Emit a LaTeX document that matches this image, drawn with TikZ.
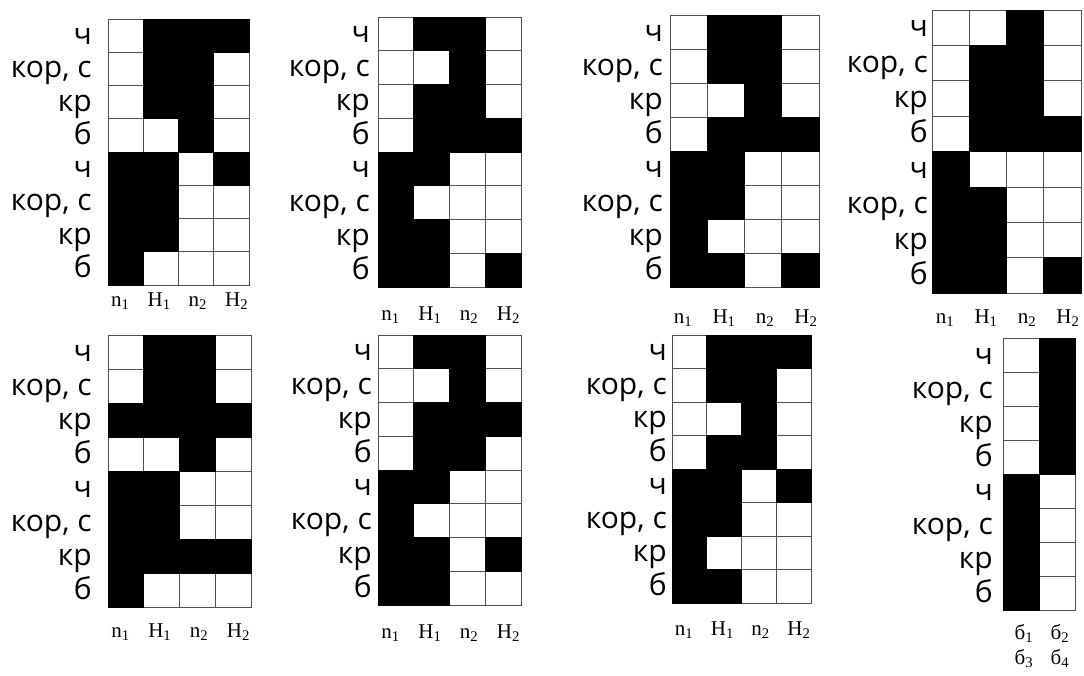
\documentclass[tikz,border=0pt]{standalone}
\usepackage{fontspec}
\setmainfont{Liberation Serif}
\newfontfamily\lblfont{Open Sans}
\definecolor{gridgray}{HTML}{505050}
\tikzset{
  rowlbl/.style={anchor=base east, inner sep=0pt, font=\lblfont\fontsize{30}{32}\selectfont},
  collbl/.style={anchor=base, inner sep=0pt, font=\fontsize{21}{23}\selectfont},
  cellw/.style={draw=gridgray, line width=1pt, fill=white},
  cellb/.style={draw=black, line width=1pt, fill=black},
}
% #1 name, #2 x0, #3 y0, #4 cell width, #5 cell height, #6 label right x, #7 pattern
\newcommand\drawmygrid[7]{%
  \foreach \rowv [count=\r] in {#7} {
    \foreach \v [count=\c] in \rowv {
      \ifnum\v=0 \path[cellw] ({#2+(\c-1)*#4},{#3+(\r-1)*#5}) rectangle ++(#4,#5);\fi
    }
  }
  \foreach \rowv [count=\r] in {#7} {
    \foreach \v [count=\c] in \rowv {
      \ifnum\v=1 \path[cellb] ({#2+(\c-1)*#4},{#3+(\r-1)*#5}) rectangle ++(#4,#5);\fi
    }
  }
  \foreach \t [count=\r] in {ч,{кор, с},кр,б,ч,{кор, с},кр,б} {
    \node[rowlbl] (#1-l\r) at (#6,{#3+(\r-0.5)*#5+9}) {\t};
  }
}
% #1 name, #2 x0, #3 cell width, #4 baseline y, #5 labels  (4 columns, spread a little wider)
\newcommand\nhlabels[4]{%
  \foreach \t [count=\c] in {n\textsubscript{1},H\textsubscript{1},n\textsubscript{2},H\textsubscript{2}} {
    \node[collbl] (#1-c\c) at ({#2+2*#3+(\c-2.5)*#3*1.1},#4) {\t};
  }
}
\newcommand\blabels[5]{%
  \foreach \t [count=\c] in {#5} {
    \node[collbl] (#1-c\c) at ({#2+(\c-0.5)*#3+3},#4) {\t};
  }
}
\begin{document}
\begin{tikzpicture}[x=1pt,y=-1pt]
\useasboundingbox (0,0) rectangle (1084,675);
\fill[white] (0,0) rectangle (1084,675);
% grid 1
\drawmygrid{ga}{108}{19}{35.25}{33.25}{92}{{0,1,1,1},{0,1,1,0},{0,1,1,0},{0,0,1,0},{1,1,0,1},{1,1,0,0},{1,1,0,0},{1,0,0,0}}
\nhlabels{ga}{108}{35.25}{306}
% grid 2
\drawmygrid{gb}{378}{17}{35.75}{33.75}{370}{{0,1,1,0},{0,0,1,0},{0,1,1,0},{0,1,1,1},{1,1,0,0},{1,0,0,0},{1,1,0,0},{1,1,0,1}}
\nhlabels{gb}{378}{35.75}{320}
% grid 3
\drawmygrid{gc}{670}{15}{37.25}{34}{663}{{0,1,1,0},{0,1,1,0},{0,0,1,0},{0,1,1,1},{1,1,0,0},{1,1,0,0},{1,0,0,0},{1,1,0,1}}
\nhlabels{gc}{670}{37.25}{323}
% grid 4
\drawmygrid{gd}{932}{10}{37.25}{35.4}{928}{{0,0,1,0},{0,1,1,0},{0,1,1,0},{0,1,1,1},{1,0,0,0},{1,1,0,0},{1,1,0,0},{1,1,0,1}}
\nhlabels{gd}{932}{37.25}{323}
% grid 5
\drawmygrid{ge}{108}{335}{35.75}{34}{92}{{0,1,1,0},{0,1,1,0},{1,1,1,1},{0,0,1,0},{1,1,0,0},{1,1,0,0},{1,1,1,1},{1,0,0,0}}
\nhlabels{ge}{108}{35.75}{637}
% grid 6
\drawmygrid{gf}{378}{335}{35.75}{33.75}{372}{{0,1,1,0},{0,0,1,0},{0,1,1,1},{0,1,1,0},{1,1,0,0},{1,0,0,0},{1,1,0,1},{1,1,0,0}}
\nhlabels{gf}{378}{35.75}{638}
% grid 7
\drawmygrid{gg}{672}{335}{34.75}{33.5}{667}{{0,1,1,1},{0,1,1,0},{0,0,1,0},{0,1,1,0},{1,1,0,1},{1,1,0,0},{1,0,0,0},{1,1,0,0}}
\nhlabels{gg}{672}{34.75}{635}
% grid 8
\drawmygrid{gh}{1003}{338}{36}{34}{993}{{0,1},{0,1},{0,1},{0,1},{1,0},{1,0},{1,0},{1,0}}
\blabels{gh}{1003}{36}{639}{б\textsubscript{1},б\textsubscript{2}}
\blabels{gi}{1003}{36}{664}{б\textsubscript{3},б\textsubscript{4}}
\end{tikzpicture}
\end{document}
